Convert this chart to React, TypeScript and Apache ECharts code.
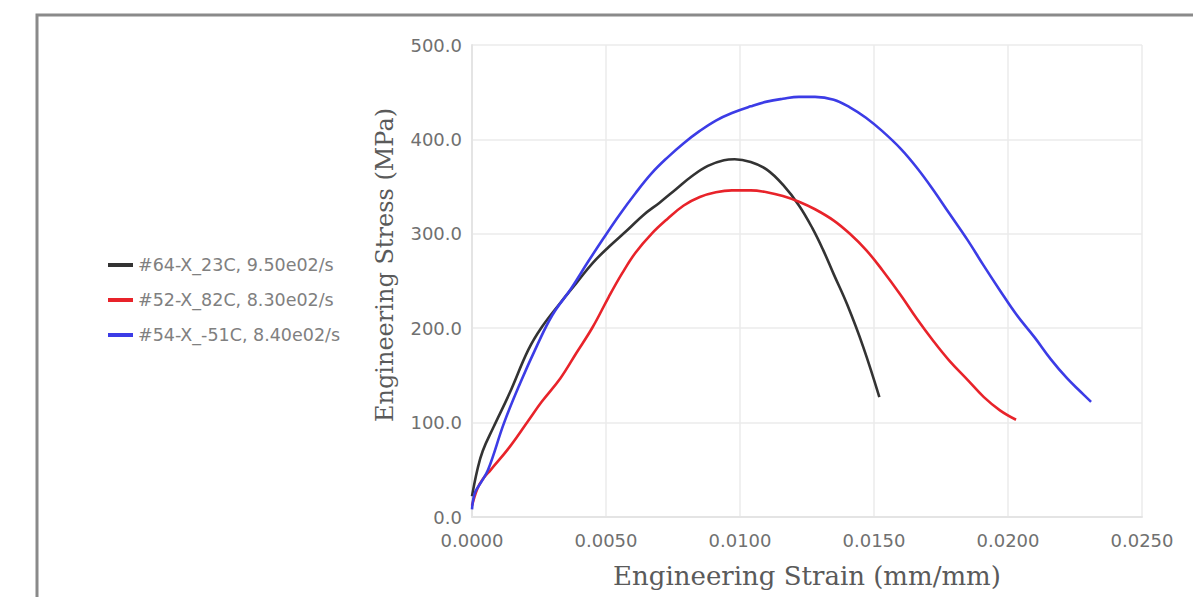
import React, { useEffect, useRef } from "react";
import * as echarts from "echarts";

// Engineering stress-strain curves, [strain (mm/mm), stress (MPa)]
const seriesNames = [
  "#64-X_23C, 9.50e02/s",
  "#52-X_82C, 8.30e02/s",
  "#54-X_-51C, 8.40e02/s",
];

const specimen64: [number, number][] = [
  [0, 22], [0.0002, 50], [0.0004, 70], [0.0008, 95], [0.0014, 131], [0.0021, 177],
  [0.0026, 201], [0.0033, 227], [0.0039, 248], [0.0045, 269], [0.0051, 286],
  [0.0058, 304], [0.0064, 320], [0.007, 333], [0.0076, 347], [0.0082, 361],
  [0.0088, 372], [0.0094, 378], [0.0098, 379], [0.0104, 376], [0.011, 368],
  [0.0116, 352], [0.0122, 330], [0.0127, 306], [0.0131, 283], [0.0135, 257],
  [0.014, 225], [0.0146, 180], [0.0152, 127],
];

const specimen52: [number, number][] = [
  [0, 12], [0.0002, 30], [0.0004, 40], [0.0007, 50], [0.0014, 74], [0.0021, 102],
  [0.0026, 122], [0.0033, 147], [0.0039, 174], [0.0045, 201], [0.0051, 233],
  [0.0056, 258], [0.0061, 280], [0.0067, 300], [0.0073, 316], [0.0079, 330],
  [0.0085, 339], [0.0091, 344], [0.0097, 346], [0.0104, 346], [0.011, 344],
  [0.0116, 340], [0.0122, 334], [0.0128, 326], [0.0135, 314], [0.0141, 300],
  [0.0147, 283], [0.0153, 262], [0.016, 235], [0.0166, 210], [0.0172, 187],
  [0.0178, 166], [0.0185, 145], [0.0191, 127], [0.0197, 113], [0.0203, 103],
];

const specimen54: [number, number][] = [
  [0, 8], [0.0001, 25], [0.0003, 35], [0.0006, 50], [0.0012, 100], [0.0018, 142],
  [0.0024, 180], [0.003, 214], [0.0037, 242], [0.0043, 269], [0.0049, 295],
  [0.0055, 320], [0.0061, 343], [0.0067, 364], [0.0073, 381], [0.0079, 396],
  [0.0085, 409], [0.0091, 420], [0.0097, 428], [0.0104, 435], [0.011, 440],
  [0.0116, 443], [0.0122, 445], [0.0128, 445], [0.0135, 442], [0.0141, 434],
  [0.0147, 423], [0.0153, 409], [0.016, 390], [0.0166, 370], [0.0172, 347],
  [0.0178, 322], [0.0185, 293], [0.0191, 266], [0.0197, 240], [0.0203, 215],
  [0.021, 190], [0.0216, 167], [0.0222, 147], [0.0227, 133], [0.0231, 122],
];

const seriesData = [specimen64, specimen52, specimen54];
const seriesColors = ["#333333", "#e8232a", "#3c3ce6"];

const xTitle = "Engineering Strain (mm/mm)";
const yTitle = "Engineering Stress (MPa)";

export default function App() {
  const ref = useRef<HTMLDivElement>(null);

  useEffect(() => {
    if (!ref.current) return;
    const chart = echarts.init(ref.current, null, { renderer: "svg" });
    const tickFont = { fontFamily: "DejaVu Sans", fontSize: 18, color: "#707070" };
    chart.setOption({
      animation: false,
      backgroundColor: "#ffffff",
      grid: { left: 472, top: 45, right: 51, bottom: 80 },
      legend: {
        orient: "vertical",
        left: 103,
        top: 250,
        itemWidth: 25,
        itemHeight: 4,
        itemGap: 15,
        icon: "rect",
        textStyle: { fontFamily: "DejaVu Sans", fontSize: 17.5, color: "#808080", lineHeight: 20 },
        data: seriesNames,
      },
      xAxis: {
        type: "value",
        min: 0,
        max: 0.025,
        interval: 0.005,
        name: xTitle,
        nameLocation: "middle",
        nameGap: 46,
        nameTextStyle: { fontFamily: "DejaVu Serif", fontSize: 26, color: "#5a5a5a" },
        axisLine: { show: true, lineStyle: { color: "#e4e4e4", width: 2 } },
        axisTick: { show: false },
        axisLabel: { ...tickFont, margin: 14, formatter: (v: number) => v.toFixed(4) },
        splitLine: { show: true, lineStyle: { color: "#ebebeb", width: 1.5 } },
      },
      yAxis: {
        type: "value",
        min: 0,
        max: 500,
        interval: 100,
        axisLine: { show: true, lineStyle: { color: "#e4e4e4", width: 2 } },
        axisTick: { show: false },
        axisLabel: { ...tickFont, margin: 10, formatter: (v: number) => v.toFixed(1) },
        splitLine: { show: true, lineStyle: { color: "#ebebeb", width: 1.5 } },
      },
      graphic: [
        {
          type: "rect",
          shape: { x: 37, y: 15, width: 1400, height: 800 },
          style: { fill: "none", stroke: "#8a8a8a", lineWidth: 3 },
          silent: true,
        },
        {
          type: "text",
          x: 385,
          y: 265,
          rotation: Math.PI / 2,
          style: {
            text: yTitle,
            fontFamily: "DejaVu Serif",
            fontSize: 24,
            fill: "#5a5a5a",
            align: "center",
            verticalAlign: "middle",
          },
        },
      ],
      series: seriesData.map((d, i) => ({
        name: seriesNames[i],
        type: "line",
        data: d,
        smooth: 0.4,
        showSymbol: false,
        lineStyle: { color: seriesColors[i], width: 2.6 },
        itemStyle: { color: seriesColors[i] },
      })),
    });
    return () => chart.dispose();
  }, []);

  return (
    <div
      ref={ref}
      style={{ position: "absolute", left: 0, top: 0, width: 1193, height: 597 }}
    />
  );
}
